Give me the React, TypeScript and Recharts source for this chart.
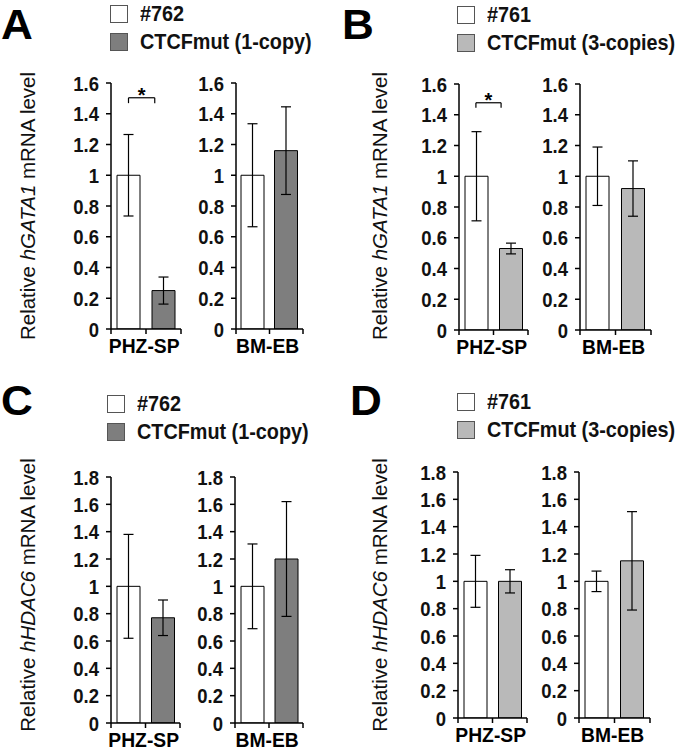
import React from 'react';
import { BarChart, Bar, XAxis, YAxis, ErrorBar, Cell, ReferenceLine } from 'recharts';

// ---- data ----
const groups = ['PHZ-SP', 'BM-EB'];
const ticksGata = [0, 0.2, 0.4, 0.6, 0.8, 1, 1.2, 1.4, 1.6];
const ticksHdac = [0, 0.2, 0.4, 0.6, 0.8, 1, 1.2, 1.4, 1.6, 1.8];

// Panel A: hGATA1, #762 vs CTCFmut (1-copy)
const a762 = [1.0, 1.0];
const a762Err = [0.265, 0.335];
const aMut = [0.25, 1.16];
const aMutErr = [0.088, 0.285];
// Panel B: hGATA1, #761 vs CTCFmut (3-copies)
const b761 = [1.0, 1.0];
const b761Err = [0.29, 0.19];
const bMut = [0.53, 0.92];
const bMutErr = [0.035, 0.18];
// Panel C: hHDAC6, #762 vs CTCFmut (1-copy)
const c762 = [1.0, 1.0];
const c762Err = [0.38, 0.31];
const cMut = [0.77, 1.2];
const cMutErr = [0.13, 0.42];
// Panel D: hHDAC6, #761 vs CTCFmut (3-copies)
const d761 = [1.0, 1.0];
const d761Err = [0.19, 0.075];
const dMut = [1.0, 1.15];
const dMutErr = [0.085, 0.36];

const DARK = '#7e7e7e';
const LIGHT = '#b9b9b9';
const FONT = "'Liberation Sans', Arial, sans-serif";
const SX = 0.88; // horizontal condensing of bold labels

type Plot = { x: number; y: number; w: number; h: number };

const YW = 55;
const MT = 16;
const MR = 30;
const XH = 40;

function YTick(props: any) {
  const { x, y, payload } = props;
  const v = payload.value;
  const t = v === 0 ? '0' : v === 1 ? '1' : Number(v).toFixed(1);
  return (
    <text transform={`translate(${x},${y}) scale(${SX},1)`} x={0} y={0} dy="0.36em" textAnchor="end"
      fill="#111" fontSize={21} fontWeight={700} fontFamily={FONT}>{t}</text>
  );
}

function makeXTick(group: string) {
  return (props: any) => {
    const { x, y, payload } = props;
    if (payload.value !== 0.5) return <g />;
    return (
      <text transform={`translate(${x},${y}) scale(0.92,1)`} x={-2} y={0} dy="0.74em" textAnchor="middle"
        fill="#000" fontSize={21} fontWeight={700} fontFamily={FONT}>{group}</text>
    );
  };
}

function StarLabel(props: any) {
  const vb = props.viewBox || {};
  const cx = (vb.x || 0) + (vb.width || 0) / 2;
  return (
    <text x={cx} y={(vb.y || 0) + 4} textAnchor="middle" fill="#000" fontSize={20} fontWeight={700}
      fontFamily={FONT}>*</text>
  );
}

// x positions on the boundary axis run 0..1 across the two bars (0.5 = between them)
function SubChart(props: {
  plot: Plot; yMax: number; ticks: number[]; group: string;
  ctrl: number; ctrlErr: number; mut: number; mutErr: number; mutColor: string;
  sig?: { x1: number; x2: number; y: number; drop: number };
}) {
  const { plot, yMax, ticks, group, ctrl, ctrlErr, mut, mutErr, mutColor, sig } = props;
  const data = [
    { name: 'ctrl', v: ctrl, e: ctrlErr, fill: '#ffffff' },
    { name: 'mut', v: mut, e: mutErr, fill: mutColor },
  ];
  return (
    <div style={{ position: 'absolute', left: plot.x - YW, top: plot.y - MT }}>
      <BarChart width={plot.w + YW + MR} height={plot.h + MT + XH} data={data}
        margin={{ top: MT, right: MR, left: 0, bottom: 0 }}>
        <XAxis xAxisId="cat" dataKey="name" type="category" hide height={0} />
        <XAxis xAxisId="num" type="number" domain={[0, 1]} allowDataOverflow ticks={[0, 0.5, 1]} height={XH}
          axisLine={{ stroke: '#000', strokeWidth: 1.5 }} tickLine={{ stroke: '#000', strokeWidth: 1.5 }}
          tickSize={5} tickMargin={3} interval={0} tick={makeXTick(group)} />
        <YAxis yAxisId="y" type="number" domain={[0, yMax]} allowDataOverflow ticks={ticks} width={YW} interval={0}
          axisLine={{ stroke: '#000', strokeWidth: 1.5 }} tickLine={{ stroke: '#000', strokeWidth: 1.5 }}
          tickSize={5} tickMargin={7} tick={<YTick />} />
        <Bar dataKey="v" xAxisId="cat" yAxisId="y" barSize={23} stroke="#000" strokeWidth={1}
          isAnimationActive={false}>
          {data.map((d) => <Cell key={d.name} fill={d.fill} />)}
          <ErrorBar dataKey="e" width={5} stroke="#000" strokeWidth={1.2} direction="y" />
        </Bar>
        {sig && (
          <ReferenceLine xAxisId="num" yAxisId="y" stroke="#000" strokeWidth={1.2} ifOverflow="visible"
            segment={[{ x: sig.x1, y: sig.y - sig.drop }, { x: sig.x1, y: sig.y }]} />
        )}
        {sig && (
          <ReferenceLine xAxisId="num" yAxisId="y" stroke="#000" strokeWidth={1.2} ifOverflow="visible"
            segment={[{ x: sig.x2, y: sig.y - sig.drop }, { x: sig.x2, y: sig.y }]} />
        )}
        {sig && (
          <ReferenceLine xAxisId="num" yAxisId="y" stroke="#000" strokeWidth={1.2} ifOverflow="visible"
            segment={[{ x: sig.x1, y: sig.y }, { x: sig.x2, y: sig.y }]}
            label={<StarLabel />} />
        )}
      </BarChart>
    </div>
  );
}

function Letter({ ch, x, y }: { ch: string; x: number; y: number }) {
  return (
    <div style={{ position: 'absolute', left: x, top: y, fontFamily: FONT, fontWeight: 700,
      fontSize: 42, lineHeight: '42px', color: '#000', transform: 'scale(1.05,1)', transformOrigin: 'left top' }}>{ch}</div>
  );
}

function LegendBlock({ x, y, ctrlName, mutName, mutColor }: { x: number; y: number; ctrlName: string; mutName: string; mutColor: string }) {
  const sw = (top: number, fill: string) => (
    <div style={{ position: 'absolute', left: 0, top, width: 16, height: 16, background: fill,
      border: '1px solid #555' }} />
  );
  const tx = (top: number, t: string) => (
    <div style={{ position: 'absolute', left: 30, top, fontFamily: FONT, fontWeight: 700,
      fontSize: 22, lineHeight: '24px', whiteSpace: 'nowrap', color: '#111',
      transform: 'scale(0.9,1)', transformOrigin: 'left top' }}>{t}</div>
  );
  return (
    <div style={{ position: 'absolute', left: x, top: y }}>
      {sw(0, '#fff')}
      {tx(-3, ctrlName)}
      {sw(28, mutColor)}
      {tx(25, mutName)}
    </div>
  );
}

function YLabel({ cx, cy, gene }: { cx: number; cy: number; gene: string }) {
  return (
    <div style={{ position: 'absolute', left: cx - 150, top: cy - 12, width: 300, height: 24,
      transform: 'rotate(-90deg)', textAlign: 'center', fontFamily: FONT, fontSize: 20.5,
      lineHeight: '24px', whiteSpace: 'nowrap', color: '#111' }}>
      Relative <i>{gene}</i> mRNA level
    </div>
  );
}

export default function App() {
  return (
    <div style={{ position: 'absolute', left: 0, top: 0, width: 680, height: 750, background: '#fff', overflow: 'hidden' }}>
      {/* Panel A */}
      <Letter ch="A" x={1} y={4} />
      <LegendBlock x={110} y={5} ctrlName="#762" mutName="CTCFmut (1-copy)" mutColor={DARK} />
      <YLabel cx={28} cy={206} gene="hGATA1" />
      <SubChart plot={{ x: 111, y: 83, w: 70, h: 246 }} yMax={1.6} ticks={ticksGata} group={groups[0]}
        ctrl={a762[0]} ctrlErr={a762Err[0]} mut={aMut[0]} mutErr={aMutErr[0]} mutColor={DARK}
        sig={{ x1: 0.25, x2: 0.625, y: 1.504, drop: 0.035 }} />
      <SubChart plot={{ x: 236, y: 83, w: 67, h: 246 }} yMax={1.6} ticks={ticksGata} group={groups[1]}
        ctrl={a762[1]} ctrlErr={a762Err[1]} mut={aMut[1]} mutErr={aMutErr[1]} mutColor={DARK} />

      {/* Panel B */}
      <Letter ch="B" x={342} y={4} />
      <LegendBlock x={457} y={6} ctrlName="#761" mutName="CTCFmut (3-copies)" mutColor={LIGHT} />
      <YLabel cx={380} cy={206} gene="hGATA1" />
      <SubChart plot={{ x: 459, y: 84, w: 69, h: 246 }} yMax={1.6} ticks={ticksGata} group={groups[0]}
        ctrl={b761[0]} ctrlErr={b761Err[0]} mut={bMut[0]} mutErr={bMutErr[0]} mutColor={LIGHT}
        sig={{ x1: 0.245, x2: 0.61, y: 1.478, drop: 0.033 }} />
      <SubChart plot={{ x: 580, y: 84, w: 71, h: 246 }} yMax={1.6} ticks={ticksGata} group={groups[1]}
        ctrl={b761[1]} ctrlErr={b761Err[1]} mut={bMut[1]} mutErr={bMutErr[1]} mutColor={LIGHT} />

      {/* Panel C */}
      <Letter ch="C" x={1} y={380} />
      <LegendBlock x={107} y={395} ctrlName="#762" mutName="CTCFmut (1-copy)" mutColor={DARK} />
      <YLabel cx={28} cy={595} gene="hHDAC6" />
      <SubChart plot={{ x: 111, y: 477, w: 69, h: 246 }} yMax={1.8} ticks={ticksHdac} group={groups[0]}
        ctrl={c762[0]} ctrlErr={c762Err[0]} mut={cMut[0]} mutErr={cMutErr[0]} mutColor={DARK} />
      <SubChart plot={{ x: 235, y: 477, w: 68, h: 246 }} yMax={1.8} ticks={ticksHdac} group={groups[1]}
        ctrl={c762[1]} ctrlErr={c762Err[1]} mut={cMut[1]} mutErr={cMutErr[1]} mutColor={DARK} />

      {/* Panel D */}
      <Letter ch="D" x={350} y={380} />
      <LegendBlock x={457} y={393} ctrlName="#761" mutName="CTCFmut (3-copies)" mutColor={LIGHT} />
      <YLabel cx={380} cy={595} gene="hHDAC6" />
      <SubChart plot={{ x: 458, y: 472, w: 69, h: 246 }} yMax={1.8} ticks={ticksHdac} group={groups[0]}
        ctrl={d761[0]} ctrlErr={d761Err[0]} mut={dMut[0]} mutErr={dMutErr[0]} mutColor={LIGHT} />
      <SubChart plot={{ x: 579, y: 472, w: 71, h: 246 }} yMax={1.8} ticks={ticksHdac} group={groups[1]}
        ctrl={d761[1]} ctrlErr={d761Err[1]} mut={dMut[1]} mutErr={dMutErr[1]} mutColor={LIGHT} />
    </div>
  );
}
